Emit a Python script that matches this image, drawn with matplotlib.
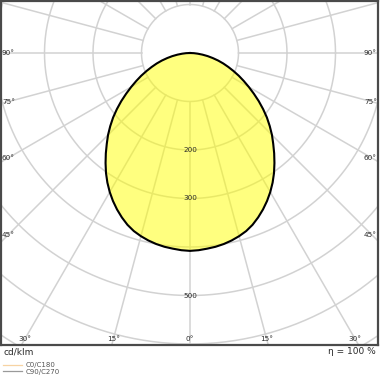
import numpy as np
import matplotlib

matplotlib.use("Agg")
import matplotlib.pyplot as plt
from matplotlib.lines import Line2D

# luminous intensity distribution, cd/klm, half-plane 0..90 deg (symmetric)
gamma_deg = [0, 2.5, 5, 7.5, 10, 12.5, 15, 17.5, 20, 22.5, 25, 27.5, 30, 32.5, 35, 37.5,
             40, 42.5, 45, 47.5, 50, 52.5, 55, 57.5, 60, 62.5, 65, 67.5, 70, 72.5, 75,
             77.5, 80, 82.5, 85, 87.5, 90]
intensity = [408, 407, 405, 403, 400, 396, 391, 385, 377, 367, 356, 344, 331, 317, 302, 286,
             270, 254, 239, 223, 207, 190, 173, 156, 140, 125, 111, 97, 84, 72, 60,
             48, 37, 26, 16, 8, 0]

ring_values = [100, 200, 300, 400, 500, 600, 700, 800]
ring_labels = [200, 300, 500]
side_angles = [90, 75, 60, 45]
bottom_angles = [0, 15, 30]
spoke_angles = list(range(0, 360, 15))

unit_label = "cd/klm"
efficiency_label = "η = 100 %"
legend_labels = ["C0/C180", "C90/C270"]

grid_color = "#d2d2d2"
text_color = "#2a2a2a"

W, H, DPI = 380, 380, 100
scale = 0.485  # px per cd/klm
cx, cy = 190, 53  # pole position in pixels (from top-left)
left_px, right_px, top_px, bottom_px = 1, 378, 1, 345

fig = plt.figure(figsize=(W / DPI, H / DPI), dpi=DPI)
ax = fig.add_axes([left_px / W, (H - bottom_px) / H, (right_px - left_px) / W, (bottom_px - top_px) / H])
ax.set_xlim((left_px - cx) / scale, (right_px - cx) / scale)
ax.set_ylim((cy - bottom_px) / scale, (cy - top_px) / scale)
ax.set_aspect("equal", adjustable="box")
ax.set_xticks([])
ax.set_yticks([])
for sp in ax.spines.values():
    sp.set_color("#4a4a4a")
    sp.set_linewidth(1.6)

# grid circles
t = np.linspace(0, 2 * np.pi, 400)
for r in ring_values:
    ax.plot(r * np.cos(t), r * np.sin(t), color=grid_color, lw=1.1, zorder=1)

# spokes from the inner ring outwards
for a in spoke_angles:
    rad = np.deg2rad(a)
    rr = np.array([ring_values[0], 1200])
    ax.plot(rr * np.sin(rad), -rr * np.cos(rad), color=grid_color, lw=1.1, zorder=1)

# intensity curve, mirrored for both half-planes
g = np.deg2rad(np.array(gamma_deg, dtype=float))
i = np.array(intensity, dtype=float)
theta = np.concatenate([-g[::-1], g[1:]])
rad_i = np.concatenate([i[::-1], i[1:]])
xs = rad_i * np.sin(theta)
ys = -rad_i * np.cos(theta)
ax.fill(xs, ys, color="#ffff00", alpha=0.5, lw=0, zorder=2)
ax.plot(xs, ys, color="black", lw=1.5, zorder=3, solid_joinstyle="round")

# ring labels on the 0 deg axis
for r in ring_labels:
    ax.text(0, -r, str(r), ha="center", va="center", fontsize=5.2, color=text_color, zorder=4)

# angle labels along the left/right edges
x_edge = (cx - 8) / scale
for a in side_angles:
    yy = -x_edge / np.tan(np.deg2rad(a)) if a != 90 else 0.0
    ax.text((left_px + 1 - cx) / scale, yy, f"{a}°", ha="left", va="center", fontsize=5.2, color=text_color, zorder=4)
    ax.text((right_px - 1 - cx) / scale, yy, f"{a}°", ha="right", va="center", fontsize=5.2, color=text_color, zorder=4)

# angle labels along the bottom edge
y_edge = (339 - cy) / scale
for a in bottom_angles:
    xx = y_edge * np.tan(np.deg2rad(a))
    for sgn in ([1] if a == 0 else [-1, 1]):
        ax.text(sgn * xx, -y_edge, f"{a}°", ha="center", va="center", fontsize=5.2, color=text_color, zorder=4)

fig.text(4 / W, 1 - 352 / H, unit_label, ha="left", va="center", fontsize=6.5, color=text_color)
fig.text(376 / W, 1 - 352 / H, efficiency_label, ha="right", va="center", fontsize=6.5, color=text_color)

handles = [
    Line2D([], [], color="#f7d3a3", lw=0.9),
    Line2D([], [], color="#9a9a9a", lw=0.9),
]
fig.legend(
    handles, legend_labels, loc="upper left", bbox_to_anchor=(3 / W, 1 - 362 / H),
    frameon=False, fontsize=5, labelspacing=0.12, borderpad=0, borderaxespad=0,
    handlelength=2.7, handletextpad=0.6, labelcolor="#555555",
)

fig.savefig("out.png", dpi=DPI)
plt.close(fig)
